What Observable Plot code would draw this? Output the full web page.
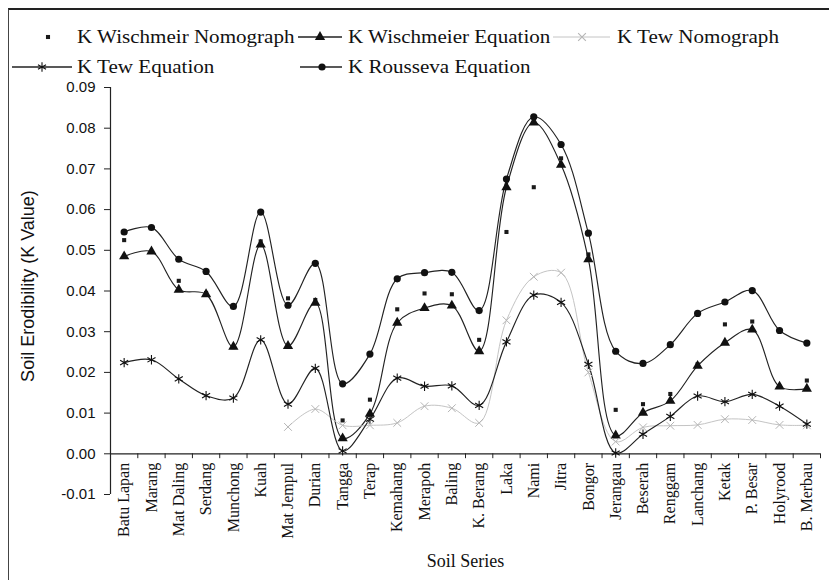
<!DOCTYPE html>
<html>
<head>
<meta charset="utf-8">
<script src="https://cdn.jsdelivr.net/npm/d3@7"></script>
<script src="https://cdn.jsdelivr.net/npm/@observablehq/plot@0.6"></script>
<style>
  html, body { margin: 0; padding: 0; background: #fff; }
  #wrap { position: relative; width: 829px; height: 580px; overflow: hidden; background: #fff; }
  #frame { position: absolute; left: 8px; top: 8px; width: 840px; height: 600px;
           border-top: 2px solid #222; border-left: 1.5px solid #444; pointer-events: none; }
  #legend { position: relative; height: 78px; }
  .ltxt { position: absolute; font-family: "Liberation Serif", serif; font-size: 18px; color: #111;
          white-space: nowrap; line-height: 18px; transform-origin: 0 50%; transform: scaleX(1.17); }
  .lsym { position: absolute; overflow: visible; }
  #chart { position: relative; }
</style>
</head>
<body>
<div id="wrap">
  <div id="legend"></div>
  <div id="chart"></div>
  <div id="frame"></div>
</div>
<script>
// ---- data ----
const categories = ["Batu Lapan","Marang","Mat Daling","Serdang","Munchong","Kuah","Mat Jempul","Durian",
  "Tangga","Terap","Kemahang","Merapoh","Baling","K. Berang","Laka","Nami","Jitra","Bongor","Jerangau",
  "Beserah","Renggam","Lanchang","Ketak","P. Besar","Holyrood","B. Merbau"];

const kWischmeirNomograph = [0.0525,0.0556,0.0425,0.0395,0.0262,0.0522,0.0382,0.0378,0.0082,0.0133,
  0.0355,0.0394,0.0392,0.0280,0.0545,0.0655,0.0726,0.0490,0.0108,0.0122,0.0147,0.0220,0.0318,0.0325,0.0165,0.0180];

const kWischmeierEquation = [0.0485,0.0497,0.0403,0.0392,0.0263,0.0514,0.0265,0.0371,0.0038,0.0098,
  0.0322,0.0358,0.0364,0.0252,0.0655,0.0814,0.0710,0.0478,0.0045,0.0101,0.0130,0.0216,0.0273,0.0305,0.0165,0.0160];

const kTewNomograph = [null,null,null,null,null,null,0.0066,0.0110,0.0070,0.0070,
  0.0076,0.0117,0.0112,0.0076,0.0328,0.0435,0.0445,0.0200,0.0030,0.0065,0.0069,0.0071,0.0085,0.0083,0.0071,0.0070];

const kTewEquation = [0.0224,0.0231,0.0184,0.0143,0.0137,0.0280,0.0122,0.0210,0.0007,0.0085,
  0.0186,0.0166,0.0167,0.0119,0.0275,0.0390,0.0372,0.0220,0.0002,0.0048,0.0092,0.0142,0.0128,0.0146,0.0117,0.0073];

const kRoussevaEquation = [0.0545,0.0556,0.0478,0.0448,0.0362,0.0594,0.0365,0.0468,0.0172,0.0245,
  0.0430,0.0445,0.0446,0.0352,0.0675,0.0828,0.0760,0.0542,0.0252,0.0222,0.0268,0.0345,0.0373,0.0401,0.0303,0.0272];

const yTicks = [-0.01,0,0.01,0.02,0.03,0.04,0.05,0.06,0.07,0.08,0.09];
const xTitle = "Soil Series";
const yTitle = "Soil Erodibility (K Value)";

// ---- series styling ----
const series = [
  {name: "K Wischmeir Nomograph", values: kWischmeirNomograph, line: false, symbol: "square",   r: 2.3, fill: "#1a1a1a", stroke: "none", lineColor: null},
  {name: "K Wischmeier Equation", values: kWischmeierEquation, line: true,  symbol: "triangle", r: 3.8, fill: "#111",    stroke: "none", lineColor: "#222"},
  {name: "K Tew Nomograph",       values: kTewNomograph,       line: true,  symbol: "times",    r: 3.6, fill: "none",    stroke: "#b5b5b5", lineColor: "#c4c4c4"},
  {name: "K Tew Equation",        values: kTewEquation,        line: true,  symbol: "asterisk", r: 4.4, fill: "none",    stroke: "#111", lineColor: "#222"},
  {name: "K Rousseva Equation",   values: kRoussevaEquation,   line: true,  symbol: "circle",   r: 3.6, fill: "#111",    stroke: "none", lineColor: "#222"}
];

const rowsFor = s => s.values.map((v, i) => ({i, v, s: s.name})).filter(d => d.v != null);

const marks = [
  Plot.ruleX([-0.5], {y1: -0.01, y2: 0.09, stroke: "#222", strokeWidth: 1.2}),
  Plot.ruleY([0], {x1: -0.5, x2: 25.5, stroke: "#222", strokeWidth: 1.3}),
  Plot.ruleX(d3.range(-0.5, 26, 1), {x: d => d, y1: 0, y2: -0.0012, stroke: "#222", strokeWidth: 1}),
  Plot.axisY(yTicks, {tickFormat: d => d.toFixed(2), tickSize: 6, tickPadding: 9, fontSize: 15,
    fontFamily: "Liberation Sans", label: null, stroke: "#222"}),
  Plot.text([yTitle], {frameAnchor: "left", textAnchor: "middle", rotate: -90, dx: -82, dy: -5, fontSize: 18,
    fontFamily: "Liberation Sans", fill: "#111"}),
  Plot.text(d3.range(categories.length), {x: d => d, y: 0, text: d => categories[d], rotate: -90,
    textAnchor: "end", dy: 9, fontSize: 16, fontFamily: "Liberation Serif", fill: "#111"}),
  Plot.text([xTitle], {frameAnchor: "bottom", dy: 72, fontSize: 18, fontFamily: "Liberation Serif", fill: "#111"})
];

for (const s of series) {
  if (s.line) marks.push(Plot.line(rowsFor(s), {x: "i", y: "v", stroke: s.lineColor,
    strokeWidth: s.name === "K Tew Nomograph" ? 1 : 1.15, curve: "catmull-rom"}));
}
for (const s of series) {
  marks.push(Plot.dot(rowsFor(s), {x: "i", y: "v", symbol: () => s.symbol, r: s.r,
    fill: s.fill, stroke: s.stroke, strokeWidth: s.symbol === "asterisk" ? 1.1 : 1}));
}

const chart = Plot.plot({
  width: 829, height: 502,
  marginTop: 9, marginBottom: 86, marginLeft: 110, marginRight: 9,
  x: {type: "linear", domain: [-0.5, 25.5], axis: null},
  y: {domain: [-0.01, 0.09], axis: null},
  symbol: {type: "identity"},
  style: {background: "transparent", color: "#111", overflow: "visible"},
  marks
});
document.getElementById("chart").appendChild(chart);

// ---- legend ----
const legendLayout = [
  {row: 37, sx1: 20,  sx2: 72,  mx: 48,  tx: 77},
  {row: 37, sx1: 298, sx2: 342, mx: 320, tx: 348},
  {row: 37, sx1: 553, sx2: 610, mx: 582, tx: 617},
  {row: 67, sx1: 12,  sx2: 72,  mx: 42,  tx: 77},
  {row: 67, sx1: 300, sx2: 342, mx: 322, tx: 348}
];
const symMap = {square: d3.symbolSquare, triangle: d3.symbolTriangle, times: d3.symbolTimes,
  asterisk: d3.symbolAsterisk, circle: d3.symbolCircle};
const legend = d3.select("#legend");
series.forEach((s, k) => {
  const L = legendLayout[k];
  const svg = legend.append("svg").attr("class", "lsym")
    .attr("width", L.sx2 - L.sx1).attr("height", 20)
    .style("left", L.sx1 + "px").style("top", (L.row - 10) + "px");
  if (s.line) svg.append("line").attr("x1", 0).attr("x2", L.sx2 - L.sx1).attr("y1", 10).attr("y2", 10)
    .attr("stroke", s.lineColor).attr("stroke-width", s.name === "K Tew Nomograph" ? 1 : 1.3);
  svg.append("path").attr("transform", `translate(${L.mx - L.sx1},10)`)
    .attr("d", d3.symbol(symMap[s.symbol], s.r * s.r * Math.PI)())
    .attr("fill", s.fill).attr("stroke", s.stroke === "none" ? null : s.stroke)
    .attr("stroke-width", 1.1);
  legend.append("div").attr("class", "ltxt").style("left", L.tx + "px").style("top", (L.row - 9) + "px")
    .text(s.name);
});
</script>
</body>
</html>
